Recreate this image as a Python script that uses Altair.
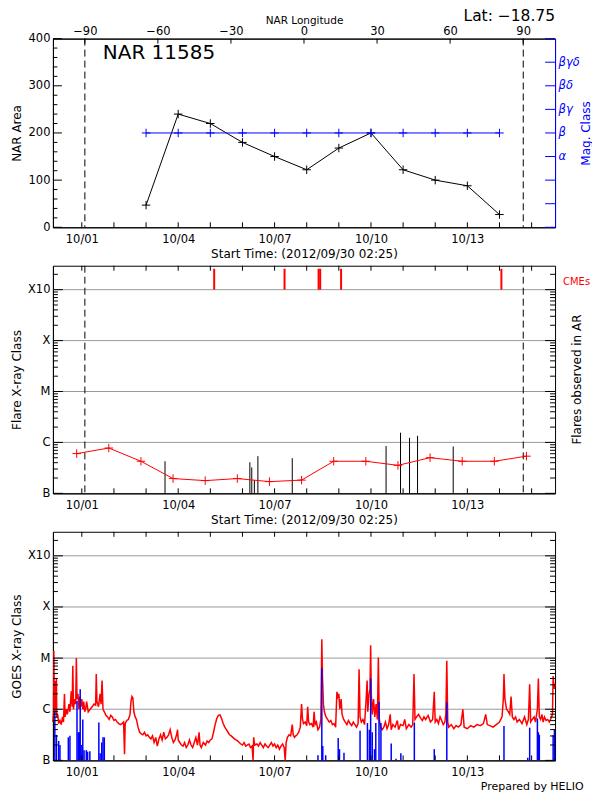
import altair as alt
import pandas as pd
import numpy as np

FONT = "DejaVu Sans"
W = 503
H1, H2, H3 = 189, 228, 229
GAP = 38.5

# time axis: days since 2012-09-30 00:00 UT (plot starts 2012/09/30 02:25)
X_DOMAIN = [0.1007, 15.73]
LON_DOMAIN = [-103.1, 103.1]
LVL_DOMAIN = [0, 4.47]          # 0=B, 1=C, 2=M, 3=X, 4=X10 (log10 flux steps)

day_label_pos = [1, 4, 7, 10, 13]
day_label_txt = ["10/01", "10/04", "10/07", "10/10", "10/13"]
day_ticks = [1, 2, 3, 4, 5, 6, 7, 8, 9, 10, 11, 12, 13, 14, 15]
limb_day = [1.095, 14.74]

# ---- panel 1
nar_name = "NAR 11585"
lat = -18.75
lon_ticks = [-90, -60, -30, 0, 30, 60, 90]
area_major = [0, 100, 200, 300, 400]
area_minor = [20, 40, 60, 80, 120, 140, 160, 180, 220, 240, 260, 280, 320, 340, 360, 380]
nar_day = [3, 4, 5, 6, 7, 8, 9, 10, 11, 12, 13, 14]
nar_area = [47, 240, 220, 180, 150, 122, 168, 200, 122, 100, 88, 27]
mag_day = [3, 4, 5, 6, 7, 8, 9, 10, 11, 12, 13, 14]
mag_class = [4, 4, 4, 4, 4, 4, 4, 4, 4, 4, 4, 4]
mag_pos = [3, 4, 5, 6, 7]
mag_names = ["α", "β", "βγ", "βδ", "βγδ"]
mag_ticks = [0, 1, 2, 3, 4, 5, 6, 7, 8]

# ---- panel 2
cls_pos = [0, 1, 2, 3, 4]
cls_names = ["B", "C", "M", "X", "X10"]
grid_lvl = [1, 2, 3, 4]
flare_day = [0.84, 1.84, 2.84, 3.84, 4.84, 5.84, 6.84, 7.84, 8.84, 9.84, 10.84, 11.84, 12.84, 13.84, 14.84]
flare_lvl = [0.78, 0.89, 0.63, 0.29, 0.25, 0.29, 0.23, 0.26, 0.63, 0.63, 0.55, 0.70, 0.63, 0.63, 0.73]
obs_day = [3.59, 6.23, 6.29, 6.37, 6.48, 7.55, 10.47, 10.92, 11.20, 11.45, 12.56]
obs_lvl = [0.63, 0.61, 0.51, 0.26, 0.73, 0.69, 0.93, 1.19, 1.09, 1.13, 0.92]
cme_day = [5.12, 7.31, 8.37, 8.42, 9.07, 14.06]
cme_base = 4.0
cme_top = 4.41

# ---- panel 3 (GOES)
goes_day = [
    0.10, 0.12, 0.13, 0.15, 0.17, 0.18, 0.19, 0.21, 0.22, 0.25, 0.28, 0.32, 0.36, 0.40, 0.43, 0.46, 0.48, 0.52, 0.55, 0.60,
    0.63, 0.67, 0.70, 0.72, 0.74, 0.78, 0.81, 0.83, 0.85, 0.88, 0.91, 0.94, 0.97, 1.00, 1.03, 1.06, 1.09, 1.12, 1.15, 1.20,
    1.26, 1.32, 1.38, 1.43, 1.45, 1.47, 1.52, 1.57, 1.60, 1.63, 1.66, 1.70, 1.75, 1.80, 1.85, 1.90, 1.95, 2.00, 2.05, 2.10,
    2.15, 2.20, 2.25, 2.30, 2.33, 2.35, 2.40, 2.45, 2.50, 2.53, 2.56, 2.59, 2.62, 2.66, 2.70, 2.75, 2.80, 2.85, 2.90, 2.95,
    3.00, 3.05, 3.10, 3.15, 3.20, 3.25, 3.30, 3.35, 3.40, 3.45, 3.50, 3.55, 3.60, 3.65, 3.70, 3.75, 3.80, 3.85, 3.90, 3.95,
    3.98, 4.00, 4.05, 4.10, 4.15, 4.20, 4.25, 4.30, 4.35, 4.40, 4.45, 4.50, 4.55, 4.60, 4.65, 4.68, 4.72, 4.78, 4.85, 4.90,
    4.95, 5.00, 5.05, 5.10, 5.15, 5.20, 5.25, 5.30, 5.35, 5.40, 5.45, 5.50, 5.55, 5.60, 5.65, 5.70, 5.75, 5.80, 5.85, 5.90,
    5.95, 6.00, 6.05, 6.10, 6.15, 6.20, 6.25, 6.30, 6.33, 6.35, 6.38, 6.45, 6.50, 6.55, 6.60, 6.65, 6.70, 6.75, 6.80, 6.85,
    6.90, 6.95, 7.00, 7.05, 7.10, 7.15, 7.20, 7.25, 7.30, 7.33, 7.36, 7.40, 7.45, 7.50, 7.55, 7.58, 7.62, 7.66, 7.70, 7.75,
    7.80, 7.84, 7.87, 7.90, 7.95, 8.00, 8.03, 8.06, 8.10, 8.15, 8.20, 8.23, 8.26, 8.30, 8.35, 8.40, 8.44, 8.47, 8.49, 8.52,
    8.55, 8.60, 8.65, 8.70, 8.75, 8.80, 8.85, 8.90, 8.94, 8.97, 9.00, 9.03, 9.07, 9.10, 9.15, 9.20, 9.25, 9.30, 9.35, 9.40,
    9.45, 9.50, 9.55, 9.60, 9.63, 9.66, 9.70, 9.75, 9.80, 9.85, 9.88, 9.90, 9.94, 9.97, 9.99, 10.01, 10.04, 10.08, 10.12, 10.16,
    10.20, 10.23, 10.26, 10.30, 10.35, 10.40, 10.45, 10.50, 10.55, 10.60, 10.63, 10.68, 10.75, 10.82, 10.86, 10.92, 11.00, 11.05, 11.10, 11.18,
    11.25, 11.30, 11.34, 11.37, 11.42, 11.48, 11.55, 11.60, 11.65, 11.70, 11.78, 11.85, 11.92, 11.97, 12.00, 12.05, 12.10, 12.15, 12.20, 12.25,
    12.30, 12.33, 12.36, 12.39, 12.42, 12.50, 12.58, 12.65, 12.72, 12.80, 12.86, 12.90, 13.00, 13.10, 13.20, 13.30, 13.40, 13.50, 13.57, 13.62,
    13.70, 13.80, 13.90, 14.00, 14.08, 14.12, 14.14, 14.17, 14.22, 14.28, 14.32, 14.36, 14.40, 14.45, 14.50, 14.55, 14.62, 14.70, 14.78, 14.85,
    14.90, 14.94, 14.97, 15.02, 15.08, 15.12, 15.18, 15.21, 15.24, 15.28, 15.32, 15.36, 15.40, 15.45, 15.50, 15.55, 15.60, 15.65, 15.67, 15.70, 15.73,
]
goes_lvl = [
    0.75, 0.95, 2.14, 0.90, 1.00, 1.55, 0.95, 1.60, 0.85, 0.90, 0.72, 0.78, 0.70, 0.85, 0.75, 1.30, 0.85, 1.00, 0.90, 1.10,
    0.95, 1.35, 1.05, 1.85, 1.00, 1.20, 1.10, 2.00, 1.20, 1.30, 1.00, 1.25, 1.05, 1.20, 1.00, 1.15, 0.95, 1.00, 1.15, 0.95,
    1.00, 1.05, 1.10, 1.08, 1.69, 1.15, 1.05, 1.30, 1.10, 1.56, 1.00, 0.95, 0.88, 0.85, 0.80, 0.88, 0.85, 0.78, 0.80, 0.75,
    0.72, 0.70, 0.72, 0.75, 0.12, 0.72, 0.78, 0.80, 0.90, 1.15, 1.25, 1.22, 0.95, 0.85, 0.80, 0.65, 0.55, 0.52, 0.50, 0.55,
    0.48, 0.50, 0.45, 0.42, 0.48, 0.35, 0.45, 0.28, 0.42, 0.50, 0.40, 0.55, 0.42, 0.45, 0.50, 0.60, 0.45, 0.35, 0.40, 0.50,
    0.60, 0.40, 0.35, 0.30, 0.28, 0.35, 0.25, 0.30, 0.40, 0.30, 0.25, 0.35, 0.45, 0.30, 0.55, 0.30, 0.25, 0.35, 0.30, 0.38,
    0.35, 0.40, 0.42, 0.55, 0.70, 0.82, 0.88, 0.89, 0.82, 0.72, 0.65, 0.60, 0.55, 0.50, 0.48, 0.45, 0.42, 0.40, 0.38, 0.35,
    0.32, 0.30, 0.35, 0.28, 0.30, 0.32, 0.25, 0.28, 0.00, 0.45, 0.30, 0.32, 0.28, 0.35, 0.30, 0.25, 0.32, 0.28, 0.25, 0.30,
    0.35, 0.28, 0.32, 0.25, 0.30, 0.22, 0.28, 0.32, 0.25, 0.00, 0.35, 0.45, 0.50, 0.48, 0.70, 0.50, 0.45, 0.48, 0.50, 0.55,
    0.65, 1.10, 0.80, 0.72, 0.75, 0.68, 1.05, 0.75, 0.70, 0.72, 0.65, 0.95, 0.70, 0.75, 0.60, 0.65, 0.80, 2.37, 1.65, 1.10,
    0.95, 0.85, 0.80, 0.75, 0.78, 0.70, 0.72, 0.65, 1.34, 1.25, 1.30, 1.00, 1.20, 0.90, 0.80, 0.75, 0.70, 0.78, 0.72, 0.68,
    0.75, 0.70, 0.65, 0.72, 1.78, 0.85, 0.75, 0.80, 0.70, 1.20, 1.56, 0.95, 1.30, 1.40, 2.25, 1.30, 0.90, 1.20, 0.85, 1.10,
    0.80, 2.01, 0.80, 0.65, 0.60, 0.65, 0.75, 0.62, 0.70, 0.90, 0.60, 0.70, 0.65, 0.78, 0.60, 0.70, 0.68, 0.80, 0.62, 0.70,
    0.65, 0.70, 1.69, 0.80, 0.85, 0.90, 0.82, 0.78, 0.85, 0.80, 0.88, 0.75, 0.80, 1.34, 0.75, 0.80, 0.72, 0.85, 0.78, 0.70,
    0.75, 0.90, 1.95, 0.75, 0.65, 0.70, 0.62, 0.68, 0.65, 0.70, 1.00, 0.65, 0.62, 0.68, 0.65, 0.70, 0.68, 0.72, 0.90, 0.70,
    0.68, 0.65, 0.70, 0.75, 0.85, 1.20, 1.69, 1.20, 1.00, 0.95, 0.90, 1.25, 0.85, 0.80, 0.85, 0.75, 0.80, 0.72, 0.85, 0.70,
    0.80, 1.49, 0.75, 0.80, 0.85, 0.75, 1.00, 1.60, 0.85, 0.80, 0.90, 0.75, 0.85, 0.78, 0.80, 0.75, 0.82, 0.90, 1.65, 1.40, 1.50,
]
goes_b_day = [0.16, 0.21, 0.28, 0.32, 0.58, 0.63, 0.85, 0.89, 0.92, 0.95, 0.98, 1.03, 1.07, 1.14, 1.18, 1.25, 1.53, 1.57, 1.62, 1.66, 1.70,
              8.35, 8.47, 8.50, 8.59, 8.98, 9.02, 9.16, 9.66, 9.89, 9.95, 9.99, 10.04, 10.11, 10.15, 10.25, 10.31,
              10.63, 10.78, 10.93, 11.35, 11.97, 12.36, 14.14, 14.88, 14.94, 15.18, 15.21, 15.24, 15.67, 15.71]
goes_b_lvl = [0.95, 0.50, 0.38, 0.30, 0.45, 0.48, 1.16, 0.55, 0.55, 1.39, 0.30, 0.80, 0.20, 0.20, 0.17, 0.18, 0.74, 0.14, 0.35, 0.45, 0.45,
              0.10, 1.80, 0.28, 0.10, 0.44, 0.22, 0.15, 0.58, 0.73, 0.60, 1.60, 0.55, 0.22, 0.73, 1.14, 0.73,
              0.33, 0.03, 0.14, 0.74, 0.22, 1.13, 0.67, 0.05, 0.64, 0.82, 0.55, 0.50, 0.49, 0.60]

# log minor tick positions (2..9 within each decade)
lvl_minor = [d + float(np.log10(k)) for d in range(5) for k in range(2, 10) if d + np.log10(k) < LVL_DOMAIN[1]]

PLUS = "M-1,0L1,0M0,-1L0,1"
GRID = "#9a9a9a"


def label_expr(pos, names):
    e = "''"
    for p, n in reversed(list(zip(pos, names))):
        e = f"datum.value == {p} ? '{n}' : ({e})"
    return e


def base_axis(**kw):
    d = dict(grid=False, ticks=False, tickSize=0, domainColor="black", domainWidth=1,
             labelFont=FONT, labelFontSize=11.5, labelColor="black", labelOverlap=False, labelFlush=False,
             titleFont=FONT, titleFontSize=12, titleFontWeight="normal", titleColor="black")
    d.update(kw)
    return alt.Axis(**d)


def day_axis(title, **kw):
    d = dict(orient="bottom", values=day_label_pos, labelExpr=label_expr(day_label_pos, day_label_txt),
             labelPadding=6, title=title, titleX=W / 2, titleY=26, titleBaseline="middle")
    d.update(kw)
    return base_axis(**d)


def lvl_axis(title, h):
    return base_axis(orient="left", values=cls_pos, labelExpr=label_expr(cls_pos, cls_names), labelPadding=3,
                     title=title, titleX=-36, titleY=h / 2, titleAngle=270, titleBaseline="middle")


sx = alt.Scale(domain=X_DOMAIN, nice=False, zero=False)
slvl = alt.Scale(domain=LVL_DOMAIN, nice=False, zero=False)

dticks_df = pd.DataFrame({"day": day_ticks})
limb_df = pd.DataFrame({"day": limb_day})


def day_tick_layers(X, h, top=True):
    out = [alt.Chart(dticks_df).mark_rule(color="black", strokeWidth=1).encode(
        x=X, y=alt.value(h), y2=alt.value(h - 5))]
    if top:
        out.append(alt.Chart(dticks_df).mark_rule(color="black", strokeWidth=1).encode(
            x=X, y=alt.value(0), y2=alt.value(5)))
    return out


def lvl_tick_layers(Y):
    maj = pd.DataFrame({"lvl": cls_pos})
    mnr = pd.DataFrame({"lvl": lvl_minor})
    out = []
    for df, ln in ((maj, 10), (mnr, 5)):
        out.append(alt.Chart(df).mark_rule(color="black", strokeWidth=1).encode(
            y=Y, x=alt.value(0), x2=alt.value(ln)))
        out.append(alt.Chart(df).mark_rule(color="black", strokeWidth=1).encode(
            y=Y, x=alt.value(W - ln), x2=alt.value(W)))
    return out


# ================= panel 1 =================
X1 = alt.X("day:Q", scale=sx, axis=day_axis("Start Time: (2012/09/30 02:25)"))
Y1 = alt.Y("area:Q", scale=alt.Scale(domain=[0, 400], nice=False, zero=False),
           axis=base_axis(orient="left", values=area_major, labelPadding=3, title="NAR Area",
                          titleX=-36, titleY=H1 / 2, titleAngle=270, titleBaseline="middle"))
nar_df = pd.DataFrame({"day": nar_day, "area": nar_area})
a_layers = [
    alt.Chart(limb_df).mark_rule(color="black", strokeDash=[7, 4], strokeWidth=1).encode(x=X1),
    alt.Chart(nar_df).mark_line(color="black", strokeWidth=1).encode(x=X1, y=Y1),
    alt.Chart(nar_df).mark_point(shape=PLUS, size=72, filled=False, color="black", strokeWidth=1, opacity=1).encode(x=X1, y=Y1),
    alt.Chart(pd.DataFrame({"area": area_major})).mark_rule(color="black").encode(y=Y1, x=alt.value(0), x2=alt.value(9)),
    alt.Chart(pd.DataFrame({"area": area_minor})).mark_rule(color="black").encode(y=Y1, x=alt.value(0), x2=alt.value(4.5)),
    alt.Chart(pd.DataFrame({"t": [nar_name]})).mark_text(font=FONT, fontSize=20, align="left", baseline="alphabetic", color="black").encode(
        text="t:N", x=alt.value(50), y=alt.value(20.3)),
    alt.Chart(pd.DataFrame({"t": [f"Lat: {lat:.2f}".replace("-", "−")]})).mark_text(font=FONT, fontSize=15.5, align="right", baseline="alphabetic", color="black").encode(
        text="t:N", x=alt.value(W), y=alt.value(-17.3)),
] + day_tick_layers(X1, H1, top=False)
g_area = alt.layer(*a_layers)

Xm = alt.X("day:Q", scale=sx, axis=None)
Ym = alt.Y("mag:Q", scale=alt.Scale(domain=[0, 8], nice=False, zero=False),
           axis=base_axis(orient="right", values=mag_pos, labelExpr=label_expr(mag_pos, mag_names), labelPadding=3,
                          labelColor="blue", labelFontStyle="italic", domainColor="blue", title="Mag. Class",
                          titleColor="blue", titleX=30, titleY=H1 / 2, titleAngle=270, titleBaseline="middle"))
mag_df = pd.DataFrame({"day": mag_day, "mag": mag_class})
g_mag = alt.layer(
    alt.Chart(mag_df).mark_line(color="blue", strokeWidth=1).encode(x=Xm, y=Ym),
    alt.Chart(mag_df).mark_point(shape=PLUS, size=72, filled=False, color="blue", strokeWidth=1, opacity=1).encode(x=Xm, y=Ym),
    alt.Chart(pd.DataFrame({"mag": mag_ticks})).mark_rule(color="blue").encode(y=Ym, x=alt.value(W - 10), x2=alt.value(W)),
)

Xl = alt.X("lon:Q", scale=alt.Scale(domain=LON_DOMAIN, nice=False, zero=False),
           axis=base_axis(orient="top", values=lon_ticks, labelPadding=2, title="NAR Longitude", titleFontSize=10.5,
                          titleX=W / 2, titleY=-18.5, titleBaseline="middle"))
g_lon = alt.layer(
    alt.Chart(pd.DataFrame({"lon": lon_ticks})).mark_rule(color="black").encode(x=Xl, y=alt.value(0), y2=alt.value(5))
)

p1 = alt.layer(g_area, g_mag, g_lon).resolve_scale(x="independent", y="independent").properties(width=W, height=H1)

# ================= panel 2 =================
X2 = alt.X("day:Q", scale=sx, axis=day_axis("Start Time: (2012/09/30 02:25)"))
Y2 = alt.Y("lvl:Q", scale=slvl, axis=lvl_axis("Flare X-ray Class", H2))
fl_df = pd.DataFrame({"day": flare_day, "lvl": flare_lvl})
p2_layers = [
    alt.Chart(pd.DataFrame({"lvl": grid_lvl})).mark_rule(color=GRID, strokeWidth=1).encode(y=Y2),
    alt.Chart(limb_df).mark_rule(color="black", strokeDash=[7, 4], strokeWidth=1).encode(x=X2),
    alt.Chart(pd.DataFrame({"day": obs_day, "lvl": obs_lvl})).mark_rule(color="black", strokeWidth=1).encode(
        x=X2, y=Y2, y2=alt.datum(0)),
    alt.Chart(fl_df).mark_line(color="red", strokeWidth=1).encode(x=X2, y=Y2),
    alt.Chart(fl_df).mark_point(shape=PLUS, size=72, filled=False, color="red", strokeWidth=1, opacity=1).encode(x=X2, y=Y2),
    alt.Chart(pd.DataFrame({"day": cme_day})).mark_rule(color="red", strokeWidth=2).encode(
        x=X2, y=alt.datum(cme_base), y2=alt.datum(cme_top)),
    alt.Chart(pd.DataFrame({"t": ["CMEs"]})).mark_text(font=FONT, fontSize=10, align="left", baseline="middle", color="red").encode(
        text="t:N", x=alt.value(W + 8), y=alt.value(16.5)),
    alt.Chart(pd.DataFrame({"t": ["Flares observed in AR"]})).mark_text(font=FONT, fontSize=12, angle=270, align="center", baseline="middle", color="black").encode(
        text="t:N", x=alt.value(W + 22), y=alt.value(H2 / 2)),
] + day_tick_layers(X2, H2) + lvl_tick_layers(Y2)
p2 = alt.layer(*p2_layers).properties(width=W, height=H2)

# ================= panel 3 =================
X3 = alt.X("day:Q", scale=sx, axis=day_axis("Prepared by HELIO", titleX=531, titleAlign="right", titleFontSize=11))
Y3 = alt.Y("lvl:Q", scale=slvl, axis=lvl_axis("GOES X-ray Class", H3))
p3_layers = [
    alt.Chart(pd.DataFrame({"lvl": grid_lvl})).mark_rule(color=GRID, strokeWidth=1).encode(y=Y3),
    alt.Chart(pd.DataFrame({"day": goes_day, "lvl": goes_lvl})).mark_line(color="red", strokeWidth=1.5).encode(x=X3, y=Y3),
    alt.Chart(pd.DataFrame({"day": goes_b_day, "lvl": goes_b_lvl})).mark_rule(color="blue", strokeWidth=1.5).encode(
        x=X3, y=Y3, y2=alt.datum(0)),
] + day_tick_layers(X3, H3) + lvl_tick_layers(Y3)
p3 = alt.layer(*p3_layers).properties(width=W, height=H3)

chart = alt.vconcat(p1, p2, p3, spacing=GAP, bounds="flush").properties(
    padding={"left": 2, "top": 0, "right": 0, "bottom": 0}, background="white"
).configure_view(stroke="black", strokeWidth=1)

chart.save("out.html", embed_options={"renderer": "svg", "actions": False})
